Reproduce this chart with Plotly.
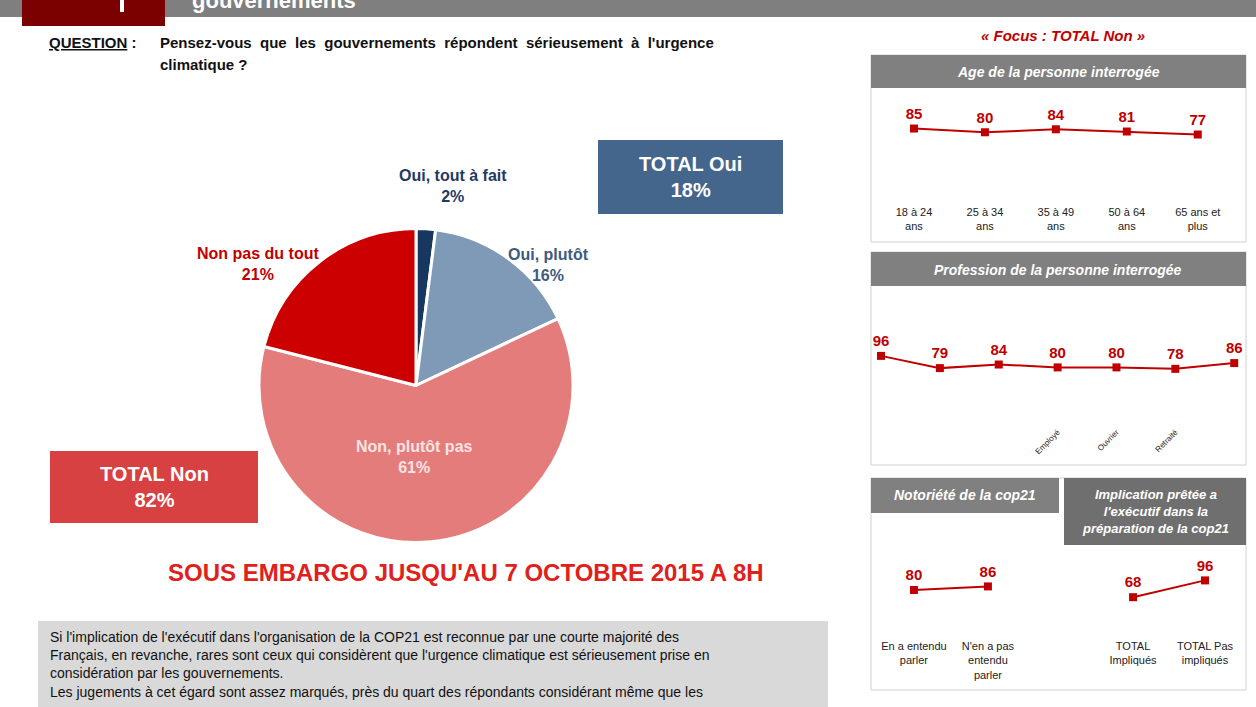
import plotly.graph_objects as go

W, H = 1256, 707
FONT = "Liberation Sans Narrow, Liberation Sans, Arial"

pie_labels = ["Oui, tout à fait", "Oui, plutôt", "Non, plutôt pas", "Non pas du tout"]
pie_values = [2, 16, 61, 21]
pie_colors = ["#17375e", "#7f9ab6", "#e57c7c", "#cc0000"]

age_labels = ["18 à 24<br>ans", "25 à 34<br>ans", "35 à 49<br>ans", "50 à 64<br>ans", "65 ans et<br>plus"]
age_values = [85, 80, 84, 81, 77]

prof_labels = ["", "", "", "Employé", "Ouvrier", "Retraité", ""]
prof_values = [96, 79, 84, 80, 80, 78, 86]

noto_labels = ["En a entendu<br>parler", "N'en a pas<br>entendu<br>parler"]
noto_values = [80, 86]

impl_labels = ["TOTAL<br>Impliqués", "TOTAL Pas<br>impliqués"]
impl_values = [68, 96]

def px(x): return x / W
def py(y): return 1 - y / H

fig = go.Figure()
fig.add_trace(go.Pie(labels=pie_labels, values=pie_values, sort=False, direction="clockwise",
                     rotation=0, marker=dict(colors=pie_colors, line=dict(color="white", width=3)),
                     textinfo="none", hoverinfo="label+percent", showlegend=False,
                     domain=dict(x=[px(259), px(573)], y=[py(543), py(228)])))

RED = "#c00000"
def line(idx, labels, vals, xdom, ydom, xr, standoff=0):
    xa = "x" if idx == 1 else f"x{idx}"
    ya = "y" if idx == 1 else f"y{idx}"
    fig.add_trace(go.Scatter(x=list(range(len(vals))), y=vals, mode="lines+markers+text",
                             text=[f"<b>{v}</b>" for v in vals],
                             textposition="top center",
                             textfont=dict(color=RED, size=15, family=FONT),
                             line=dict(color=RED, width=2), marker=dict(symbol="square", size=8, color=RED),
                             xaxis=xa, yaxis=ya, showlegend=False, cliponaxis=False))
    key = "" if idx == 1 else str(idx)
    fig.update_layout(**{
        f"xaxis{key}": dict(domain=[px(xdom[0]), px(xdom[1])], range=xr, tickvals=list(range(len(vals))),
                            ticktext=labels, showgrid=False, zeroline=False, showline=False,
                            ticklabelstandoff=standoff,
                            tickfont=dict(size=11, family=FONT, color="#222"), anchor=ya, fixedrange=True),
        f"yaxis{key}": dict(domain=[py(ydom[1]), py(ydom[0])], range=[0, 150], visible=False, anchor=xa),
    })

line(1, age_labels, age_values, (871, 1246), (80, 192), [-0.606, 4.68], standoff=12)
line(2, prof_labels, prof_values, (871, 1246), (317, 425), [-0.17, 6.2])
fig.update_layout(xaxis2=dict(tickangle=-45, tickfont=dict(size=8)))
line(3, noto_labels, noto_values, (871, 1059), (548, 638), [-0.58, 1.96])
line(4, impl_labels, impl_values, (1064, 1246), (548, 638), [-0.96, 1.57])

shapes = []
ann = []
def rect(x0, y0, x1, y1, fill, line_c=None, lw=1):
    shapes.append(dict(type="rect", xref="paper", yref="paper", x0=px(x0), x1=px(x1), y0=py(y1), y1=py(y0),
                       fillcolor=fill, line=dict(color=line_c or fill, width=lw if line_c else 0), layer="below"))
def text(x, y, s, size=14, color="#222", bold=False, italic=False, xanchor="center", align="center"):
    if bold: s = f"<b>{s}</b>"
    if italic: s = f"<i>{s}</i>"
    ann.append(dict(xref="paper", yref="paper", x=px(x), y=py(y), text=s, showarrow=False,
                    xanchor=xanchor, yanchor="middle", align=align,
                    font=dict(size=size, color=color, family=FONT)))

# top banner
rect(0, 0, 1256, 17, "#7f7f7f")
rect(22, 0, 165, 26, "#7b0000")
rect(120, 0, 124, 12, "white")
text(190, 0, "gouvernements", 22, "white", bold=True, xanchor="left")

# question
text(47, 42, "<u>QUESTION</u> :", 15, "#111", bold=True, xanchor="left")
text(158, 42, "Pensez-vous  que  les  gouvernements  répondent  sérieusement  à  l'urgence", 15, "#111", bold=True, xanchor="left")
text(158, 65, "climatique ?", 15, "#111", bold=True, xanchor="left")

# pie labels
text(453, 186, "Oui, tout à fait<br>2%", 16, "#1f3a63", bold=True)
text(548, 265, "Oui, plutôt<br>16%", 16, "#3e5a7e", bold=True)
text(258, 264, "Non pas du tout<br>21%", 16, "#c00000", bold=True)
text(414, 457, "Non, plutôt pas<br>61%", 16, "#fbe3e3", bold=True)

rect(598, 140, 783, 214, "#44658c")
text(690, 177, "TOTAL Oui<br>18%", 20, "white", bold=True)
rect(50, 451, 258, 523, "#d84141")
text(154, 487, "TOTAL Non<br>82%", 20, "white", bold=True)

text(466, 572, "SOUS EMBARGO JUSQU'AU 7 OCTOBRE 2015 A 8H", 24, "#e0201b", bold=True)

rect(38, 621, 828, 720, "#d9d9d9")
text(48, 664, "Si l'implication de l'exécutif dans l'organisation de la COP21 est reconnue par une courte majorité des<br>"
     "Français, en revanche, rares sont ceux qui considèrent que l'urgence climatique est sérieusement prise en<br>"
     "considération par les gouvernements.<br>"
     "Les jugements à cet égard sont assez marqués, près du quart des répondants considérant même que les",
     14, "#111", xanchor="left", align="left")

# right panels
text(1063, 35, "« Focus : TOTAL Non »", 15, "#c00000", bold=True, italic=True)
rect(871, 55, 1246, 242, "white", "#d0d0d0")
rect(871, 55, 1246, 88, "#808080")
text(1058, 72, "Age de la personne interrogée", 14, "white", bold=True, italic=True)
rect(871, 252, 1246, 465, "white", "#d0d0d0")
rect(871, 252, 1246, 286, "#808080")
text(1058, 270, "Profession de la personne interrogée", 14, "white", bold=True, italic=True)
rect(871, 478, 1246, 690, "white", "#d0d0d0")
rect(871, 478, 1059, 513, "#808080")
text(965, 495, "Notoriété de la cop21", 14, "white", bold=True, italic=True)
rect(1064, 478, 1246, 545, "#6f6f6f")
text(1155, 511, "Implication prêtée a<br>l'exécutif dans la<br>préparation de la cop21", 13, "white", bold=True, italic=True)

fig.update_layout(width=W, height=H, margin=dict(l=0, r=0, t=0, b=0), paper_bgcolor="white",
                  plot_bgcolor="rgba(0,0,0,0)", shapes=shapes, annotations=ann, font=dict(family=FONT))
fig.write_html("out.html", config={"displayModeBar": False},
               post_script="document.body.style.margin='0';document.body.style.overflow='hidden';")
